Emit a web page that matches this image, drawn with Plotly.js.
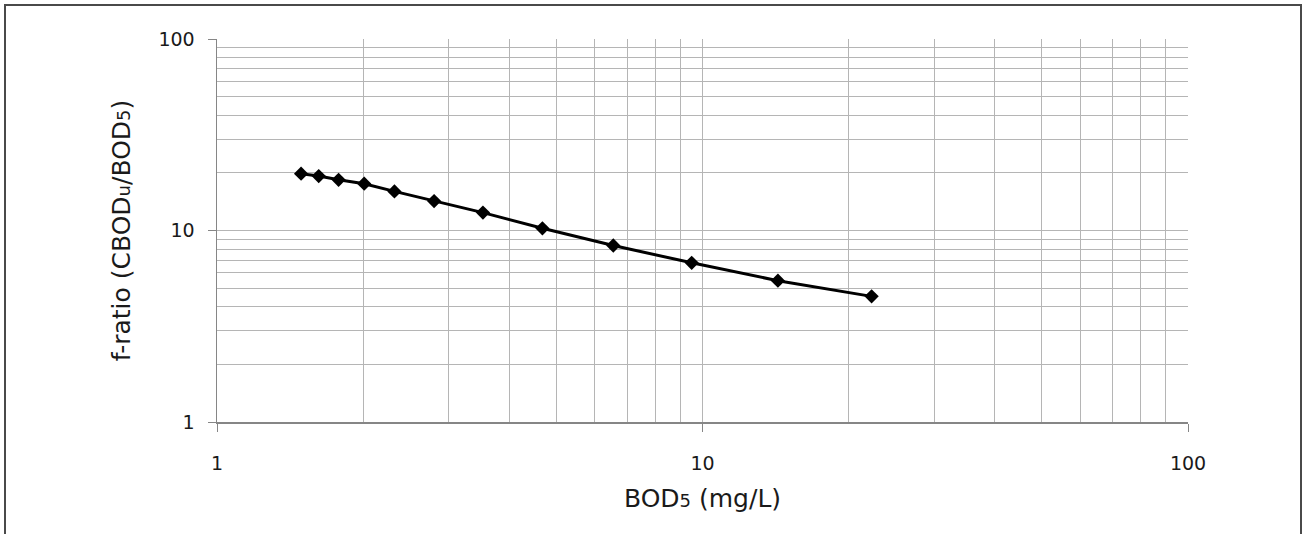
<!DOCTYPE html>
<html>
<head>
<meta charset="utf-8">
<script src="https://cdn.plot.ly/plotly-3.0.1.min.js"></script>
<style>
html, body { margin: 0; padding: 0; background: #fff; }
#wrap { position: relative; width: 1304px; height: 534px; overflow: hidden; }
#chart { position: absolute; left: 0; top: 0; width: 1304px; height: 534px; }
#frame { position: absolute; left: 4px; top: 4px; width: 1294px; height: 560px; border: 2px solid #4a4a4a; pointer-events: none; }
</style>
</head>
<body>
<div id="wrap">
  <div id="chart"></div>
  <div id="frame"></div>
</div>
<script>
// BOD5 (mg/L)
const bod5 = [1.49, 1.62, 1.78, 2.01, 2.32, 2.80, 3.53, 4.68, 6.55, 9.50, 14.3, 22.3];
// f-ratio (CBODu/BOD5)
const fRatio = [19.8, 19.25, 18.4, 17.55, 16.0, 14.25, 12.4, 10.27, 8.35, 6.78, 5.47, 4.53];

const majorTicks = [1, 10, 100];
const majorLabels = ['1', '10', '100'];

const gridColor = '#b5b5b5';
const axisColor = '#868686';
const tickFont = { family: 'DejaVu Sans, Arial, sans-serif', size: 19, color: '#1a1a1a' };
const titleFont = { family: 'DejaVu Sans, Arial, sans-serif', size: 25, color: '#1a1a1a' };

const trace = {
  x: bod5,
  y: fRatio,
  type: 'scatter',
  mode: 'lines+markers',
  line: { color: '#000000', width: 3 },
  marker: { symbol: 'diamond', size: 11, color: '#000000' },
  showlegend: false,
  hoverinfo: 'x+y'
};

const layout = {
  width: 1304,
  height: 534,
  margin: { l: 217, r: 116, t: 39, b: 112, pad: 0 },
  paper_bgcolor: '#ffffff',
  plot_bgcolor: '#ffffff',
  showlegend: false,
  xaxis: {
    type: 'log',
    range: [0, 2],
    tickmode: 'array',
    tickvals: majorTicks,
    ticktext: majorLabels,
    ticks: 'outside',
    ticklen: 8,
    tickwidth: 1,
    tickcolor: axisColor,
    ticklabelstandoff: 16,
    tickfont: tickFont,
    showgrid: true,
    gridcolor: gridColor,
    gridwidth: 1,
    minor: { dtick: 'D1', showgrid: true, gridcolor: gridColor, gridwidth: 1, ticks: '' },
    showline: true,
    linecolor: axisColor,
    linewidth: 1.5,
    zeroline: false,
    title: { text: 'BOD<span style="font-size:18px">5</span> (mg/L)', font: titleFont, standoff: 16 }
  },
  yaxis: {
    type: 'log',
    range: [0, 2],
    tickmode: 'array',
    tickvals: majorTicks,
    ticktext: majorLabels,
    ticks: 'outside',
    ticklen: 8,
    tickwidth: 1,
    tickcolor: axisColor,
    ticklabelstandoff: 9,
    tickfont: tickFont,
    showgrid: true,
    gridcolor: gridColor,
    gridwidth: 1,
    minor: { dtick: 'D1', showgrid: true, gridcolor: gridColor, gridwidth: 1, ticks: '' },
    showline: true,
    linecolor: axisColor,
    linewidth: 1.5,
    zeroline: false,
    title: { text: 'f-ratio (CBOD<span style="font-size:18px">u</span>/BOD<span style="font-size:18px">5</span>)', font: titleFont, standoff: 20 }
  }
};

Plotly.newPlot('chart', [trace], layout, { displayModeBar: false, staticPlot: true });
</script>
</body>
</html>
